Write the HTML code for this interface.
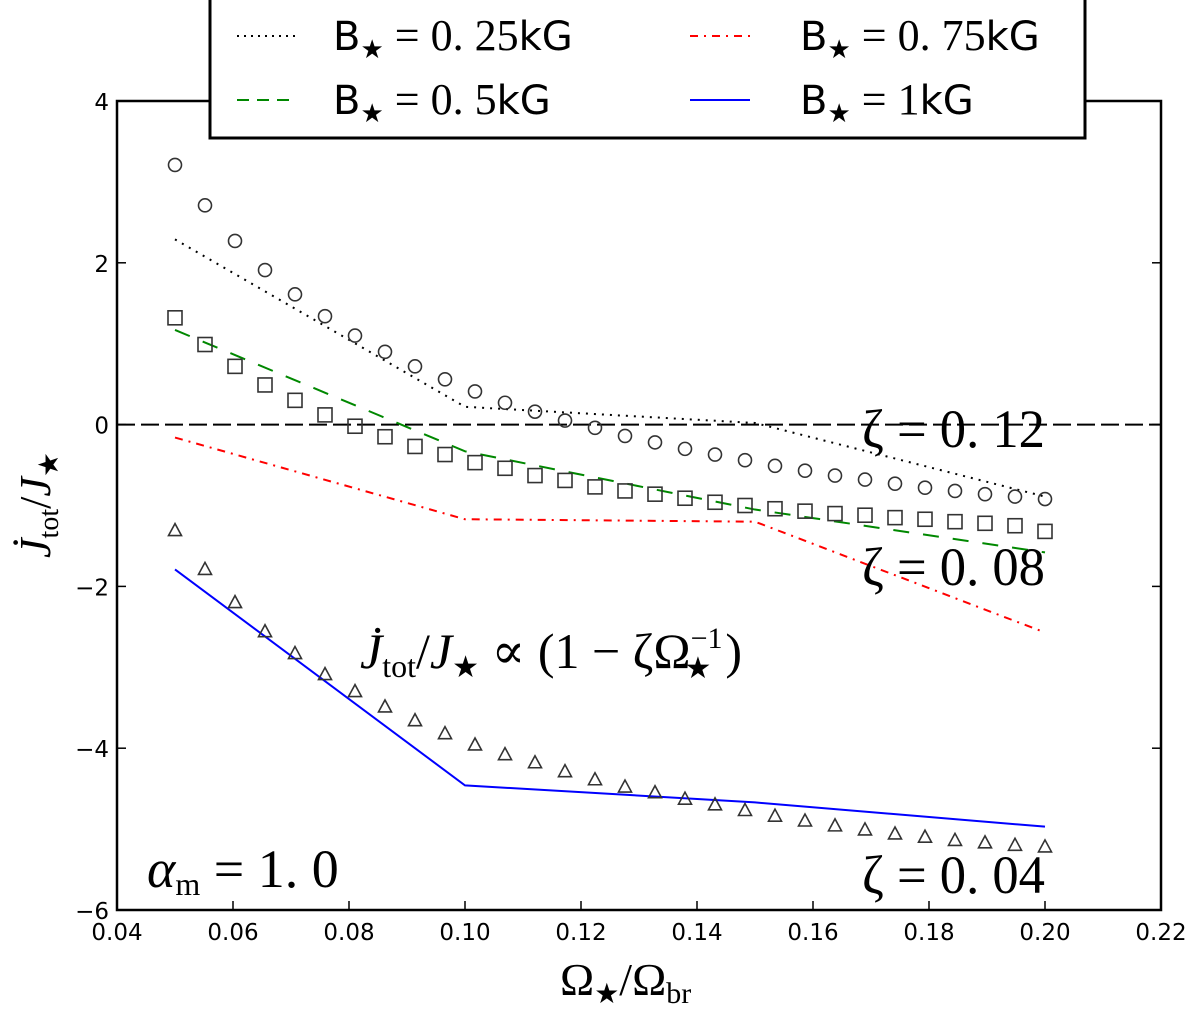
<!DOCTYPE html>
<html><head><meta charset="utf-8"><style>
body{margin:0;background:#fff;}
svg text{font-family:"DejaVu Sans","Liberation Sans",sans-serif;}
svg .serif text, svg text.serif, svg tspan.serif{font-family:"Liberation Serif","DejaVu Serif",serif;}
</style></head><body>
<svg id="chart" width="1200" height="1012" xmlns="http://www.w3.org/2000/svg">
<g id="plot"></g>
</svg>
<script>
const xTicks=[0.04,0.06,0.08,0.10,0.12,0.14,0.16,0.18,0.20,0.22];
const xTickLabels=["0.04","0.06","0.08","0.10","0.12","0.14","0.16","0.18","0.20","0.22"];
const yTicks=[4,2,0,-2,-4,-6];
const yTickLabels=["4","2","0","\u22122","\u22124","\u22126"];
const markerX0=0.05, markerX1=0.20;
const circles=[3.21,2.71,2.27,1.91,1.61,1.34,1.10,0.90,0.72,0.56,0.41,0.27,0.16,0.05,-0.04,-0.14,-0.22,-0.30,-0.37,-0.44,-0.51,-0.57,-0.63,-0.68,-0.73,-0.78,-0.82,-0.86,-0.89,-0.92];
const squares=[1.32,0.99,0.72,0.49,0.30,0.12,-0.02,-0.15,-0.27,-0.37,-0.47,-0.54,-0.63,-0.69,-0.77,-0.82,-0.86,-0.91,-0.96,-1.00,-1.04,-1.07,-1.10,-1.12,-1.15,-1.17,-1.20,-1.22,-1.25,-1.32];
const triangles=[-1.31,-1.79,-2.20,-2.56,-2.83,-3.09,-3.30,-3.49,-3.66,-3.82,-3.96,-4.08,-4.18,-4.29,-4.39,-4.48,-4.55,-4.63,-4.70,-4.77,-4.84,-4.90,-4.96,-5.01,-5.06,-5.10,-5.14,-5.17,-5.20,-5.22];
const lineX=[0.05,0.10,0.15,0.20];
const line025=[2.29,0.22,0.02,-0.89];
const line05=[1.17,-0.33,-1.05,-1.58];
const line075=[-0.16,-1.17,-1.20,-2.57];
const line1=[-1.79,-4.46,-4.67,-4.97];

const L=117,R=1161,T=101,B=910;
const X=v=>L+(v-0.04)/(0.18)*(R-L);
const Y=v=>T+(4-v)/10*(B-T);
const NS="http://www.w3.org/2000/svg";
const g=document.getElementById('plot');
function mk(tag,attrs,parent){const e=document.createElementNS(NS,tag);for(const k in attrs)e.setAttribute(k,attrs[k]);(parent||g).appendChild(e);return e;}

let z=mk('line',{x1:L,x2:R,y1:Y(0),y2:Y(0),stroke:'#000','stroke-width':2,'stroke-dasharray':'18,6'});



const series=[[line025,'#000','2,6',2,'line-0.25kG'],[line05,'#080','16,14',2,'line-0.5kG'],[line075,'red','8,6,2,6',2,'line-0.75kG'],[line1,'#00f','',2,'line-1kG']];
series.forEach(s=>{
  const p=mk('polyline',{points:lineX.map((x,i)=>X(x)+','+Y(s[0][i])).join(' '),fill:'none',stroke:s[1],'stroke-width':s[3],'stroke-dasharray':s[2]});
  
  
});
const n=circles.length;
const mx=i=>markerX0+(markerX1-markerX0)*i/(n-1);
circles.forEach((v,i)=>{
  const c=mk('circle',{cx:X(mx(i)),cy:Y(v),r:6.5,fill:'none',stroke:'#333','stroke-width':1.6});
  
  
});
squares.forEach((v,i)=>{
  const c=mk('rect',{x:X(mx(i))-7,y:Y(v)-7,width:14,height:14,fill:'none',stroke:'#333','stroke-width':1.6});
  
  
});
triangles.forEach((v,i)=>{
  const cx=X(mx(i)),cy=Y(v);
  const c=mk('polygon',{points:`${cx},${cy-7} ${cx-6.5},${cy+5} ${cx+6.5},${cy+5}`,fill:'none',stroke:'#333','stroke-width':1.6});
  
  
});

let f=mk('rect',{x:L,y:T,width:R-L,height:B-T,fill:'none',stroke:'#000','stroke-width':2.5});


xTicks.forEach((v,i)=>{
  mk('line',{x1:X(v),x2:X(v),y1:B,y2:B-9,stroke:'#000','stroke-width':1.5});
  mk('line',{x1:X(v),x2:X(v),y1:T,y2:T+9,stroke:'#000','stroke-width':1.5});
  const t=mk('text',{x:X(v),y:B+30,'font-size':23,'text-anchor':'middle'});t.textContent=xTickLabels[i];
  
  
});
yTicks.forEach((v,i)=>{
  mk('line',{x1:L,x2:L+9,y1:Y(v),y2:Y(v),stroke:'#000','stroke-width':1.5});
  mk('line',{x1:R,x2:R-9,y1:Y(v),y2:Y(v),stroke:'#000','stroke-width':1.5});
  const t=mk('text',{x:L-8,y:Y(v)+9,'font-size':23,'text-anchor':'end'});t.textContent=yTickLabels[i];
  
  
});
</script>
<svg style="position:absolute;left:0;top:0" width="1200" height="1012" xmlns="http://www.w3.org/2000/svg">
<g class="serif">
<text x="560" y="995" font-size="46">Ω<tspan font-size="28" dy="8">★</tspan><tspan dy="-8">/Ω</tspan><tspan font-size="30" dy="8">br</tspan></text>
<text transform="translate(50,505) rotate(-90)" font-size="44" text-anchor="middle"><tspan font-style="italic">J̇</tspan><tspan font-size="28" dy="8">tot</tspan><tspan dy="-8">/</tspan><tspan font-style="italic">J</tspan><tspan font-size="28" dy="8">★</tspan></text>
<text x="862" y="447" font-size="54" textLength="183" lengthAdjust="spacingAndGlyphs">ζ = 0. 12</text>
<text x="862" y="585" font-size="54" textLength="183" lengthAdjust="spacingAndGlyphs">ζ = 0. 08</text>
<text x="862" y="893" font-size="54" textLength="183" lengthAdjust="spacingAndGlyphs">ζ = 0. 04</text>
<text x="147" y="887" font-size="54"><tspan font-style="italic">α</tspan><tspan font-size="32" dy="8">m</tspan><tspan dy="-8"> = 1. 0</tspan></text>
<text x="360" y="668" font-size="50"><tspan font-style="italic">J̇</tspan><tspan font-size="32" dy="9">tot</tspan><tspan dy="-9">/</tspan><tspan font-style="italic">J</tspan><tspan font-size="30" dy="9">★</tspan><tspan dy="-9"> ∝ (1 − ζΩ</tspan><tspan font-size="30" dy="-20">−1</tspan><tspan font-size="30" dx="-38" dy="30">★</tspan><tspan dx="14" dy="-10">)</tspan></text>
</g>
<g>
<rect x="210" y="-2" width="875" height="140" fill="#fff" stroke="#000" stroke-width="3"/>
<line x1="237" y1="36" x2="297" y2="36" stroke="#000" stroke-width="2" stroke-dasharray="2,5"/>
<line x1="237" y1="100" x2="297" y2="100" stroke="#080" stroke-width="2" stroke-dasharray="12,8"/>
<line x1="690" y1="36" x2="750" y2="36" stroke="red" stroke-width="2" stroke-dasharray="8,6,2,6"/>
<line x1="690" y1="100" x2="750" y2="100" stroke="#00f" stroke-width="2"/>
<text x="333" y="50" font-size="40">B<tspan font-size="26" dy="8">★</tspan><tspan class="serif" dy="-8" font-size="44"> = 0. 25</tspan>kG</text>
<text x="333" y="114" font-size="40">B<tspan font-size="26" dy="8">★</tspan><tspan class="serif" dy="-8" font-size="44"> = 0. 5</tspan>kG</text>
<text x="800" y="50" font-size="40">B<tspan font-size="26" dy="8">★</tspan><tspan class="serif" dy="-8" font-size="44"> = 0. 75</tspan>kG</text>
<text x="800" y="114" font-size="40">B<tspan font-size="26" dy="8">★</tspan><tspan class="serif" dy="-8" font-size="44"> = 1</tspan>kG</text>
</g>
</svg>
</body></html>
